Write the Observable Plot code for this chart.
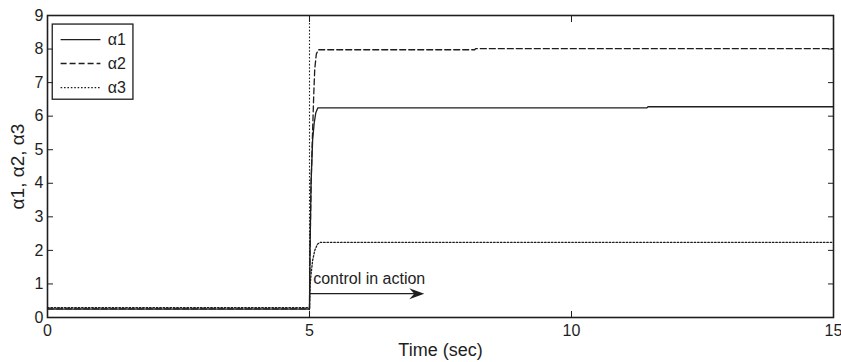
<!DOCTYPE html>
<html><head><meta charset="utf-8">
<script src="https://cdn.jsdelivr.net/npm/d3@7"></script>
<script src="https://cdn.jsdelivr.net/npm/@observablehq/plot@0.6"></script>
<style>
body{margin:0;background:#fff}
svg{font-family:"Liberation Sans",Arial,Helvetica,sans-serif}
</style>
</head><body><div id="chart"></div>
<script>
// ---- data ----
const seriesNames = ["\u03b11", "\u03b12", "\u03b13"];
const xTicks = [0, 5, 10, 15];
const yTicks = [0, 1, 2, 3, 4, 5, 6, 7, 8, 9];

const t1 = [0, 5.0, 5.01, 5.03, 5.06, 5.09, 5.12, 5.16, 11.44, 11.46, 15];
const a1 = [0.25, 0.25, 2.0, 4.0, 5.3, 5.8, 6.1, 6.25, 6.25, 6.28, 6.28];

const t2 = [0, 5.0, 5.01, 5.03, 5.06, 5.08, 5.10, 5.13, 5.17, 8.15, 8.17, 15];
const a2 = [0.26, 0.26, 2.0, 4.0, 5.6, 6.6, 7.4, 7.85, 7.98, 7.98, 8.01, 8.01];

const t3 = [0, 5.0, 5.01, 5.03, 5.06, 5.10, 5.15, 5.20, 15];
const a3 = [0.29, 0.29, 0.9, 1.3, 1.7, 2.0, 2.18, 2.24, 2.24];

const markerTime = [5];
const annotationText = ["control in action"];
const annotationX = [5.07];
const annotationY = [1.16];
const arrowX1 = [5.0], arrowX2 = [7.19], arrowY = [0.71];

// legend placement (in data units)
const legendBox = {x1: 0.1, x2: 1.64, y1: 6.49, y2: 8.73};
const legendLineX1 = 0.25, legendLineX2 = 1.01, legendTextX = 1.15;
const legendRowsY = [8.28, 7.57, 6.85];
// ---------------------------------------

const toRows = (ts, vs, s) => ts.map((t, i) => ({t, v: vs[i], series: s}));
const s1 = toRows(t1, a1, seriesNames[0]);
const s2 = toRows(t2, a2, seriesNames[1]);
const s3 = toRows(t3, a3, seriesNames[2]);
const dashes = ["none", "6,3", "1.6,1.8"];
const legendRows = seriesNames.map((s, i) => ({s, y: legendRowsY[i], dash: dashes[i]}));
const ink = "#1e1e1e";

// filled "stealth" arrowhead pointing right, tip at the symbol origin
const stealth = {draw(ctx) { ctx.moveTo(0, 0); ctx.lineTo(-15, -5.5); ctx.lineTo(-10, 0); ctx.lineTo(-15, 5.5); ctx.closePath(); }};

const plot = Plot.plot({
  width: 841, height: 362,
  marginLeft: 47, marginRight: 8, marginTop: 15, marginBottom: 45,
  x: {domain: [0, 15]},
  y: {domain: [0, 9]},
  style: {fontSize: "16px", fontFamily: "'Liberation Sans', Arial, sans-serif", color: ink, background: "#fff"},
  marks: [
    Plot.ruleX(markerTime, {y1: 0, y2: 9, stroke: ink, strokeWidth: 1.1, strokeDasharray: "1.6,1.8"}),
    Plot.line(s1, {x: "t", y: "v", stroke: ink, strokeWidth: 1.3}),
    Plot.line(s2, {x: "t", y: "v", stroke: ink, strokeWidth: 1.3, strokeDasharray: dashes[1]}),
    Plot.line(s3, {x: "t", y: "v", stroke: ink, strokeWidth: 1.3, strokeDasharray: dashes[2]}),
    Plot.text(annotationText, {x: (d, i) => annotationX[i], y: (d, i) => annotationY[i], text: d => d, textAnchor: "start", fontSize: 16, fill: ink}),
    Plot.link(arrowY, {x1: (d, i) => arrowX1[i], x2: (d, i) => arrowX2[i] - 0.15, y1: d => d, y2: d => d, stroke: ink, strokeWidth: 1.3}),
    Plot.dot(arrowY, {x: (d, i) => arrowX2[i], y: d => d, symbol: stealth, fill: ink, stroke: "none"}),
    // legend
    Plot.rect([legendBox], {x1: "x1", x2: "x2", y1: "y1", y2: "y2", fill: "#fff", stroke: ink, strokeWidth: 1.3}),
    ...legendRows.map(r => Plot.link([r], {x1: () => legendLineX1, x2: () => legendLineX2, y1: "y", y2: "y", stroke: ink, strokeWidth: 1.3, strokeDasharray: r.dash})),
    Plot.text(legendRows, {x: () => legendTextX, y: "y", text: "s", textAnchor: "start", fontSize: 16, fill: ink}),
    // axes (MATLAB-style inward ticks on all sides)
    Plot.axisX({anchor: "bottom", ticks: xTicks, tickSize: -6, tickPadding: 13, label: null}),
    Plot.axisX({anchor: "top", ticks: xTicks, tickSize: -6, tickFormat: () => "", label: null}),
    Plot.axisY({anchor: "left", ticks: yTicks, tickSize: -6, tickPadding: 10, label: null}),
    Plot.axisY({anchor: "right", ticks: yTicks, tickSize: -6, tickFormat: () => "", label: null}),
    Plot.frame({stroke: ink, strokeWidth: 1.6}),
    Plot.text(["Time (sec)"], {frameAnchor: "bottom", dy: 33, textAnchor: "middle", lineAnchor: "middle", text: d => d, fontSize: 18, fill: ink}),
    Plot.text(["\u03b11, \u03b12, \u03b13"], {frameAnchor: "left", dx: -30, rotate: -90, textAnchor: "middle", lineAnchor: "middle", text: d => d, fontSize: 19, fill: ink})
  ]
});
document.getElementById("chart").appendChild(plot);
</script>
</body></html>
